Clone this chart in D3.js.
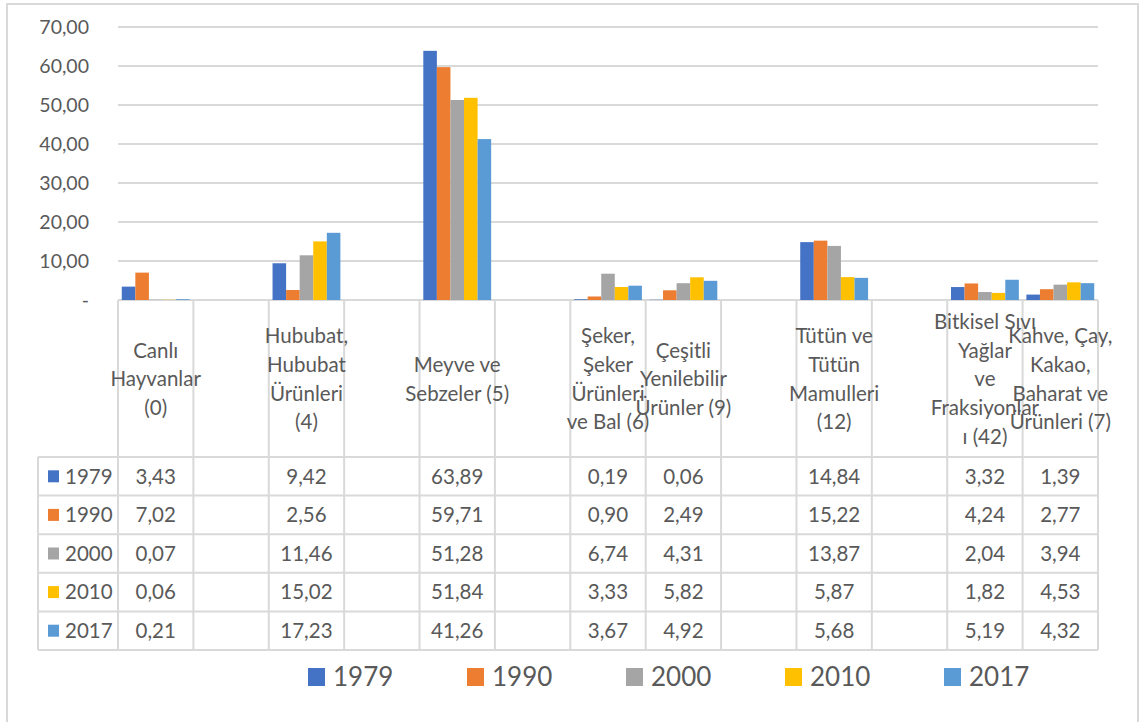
<!DOCTYPE html>
<html>
<head>
<meta charset="utf-8">
<script src="https://cdn.jsdelivr.net/npm/d3@7"></script>
<style>
  html, body { margin: 0; padding: 0; background: #fff; }
  svg { display: block; }
  text { font-family: Lato, "Open Sans", sans-serif; fill: #595959; }
</style>
</head>
<body>
<svg id="chart" width="1140" height="722"></svg>
<script>
// ---- Data ----
const categories = [
  "Canlı\nHayvanlar\n(0)",
  "",
  "Hububat,\nHububat\nÜrünleri\n(4)",
  "",
  "Meyve ve\nSebzeler (5)",
  "",
  "Şeker,\nŞeker\nÜrünleri\nve Bal (6)",
  "Çeşitli\nYenilebilir\nÜrünler (9)",
  "",
  "Tütün ve\nTütün\nMamulleri\n(12)",
  "",
  "Bitkisel Sıvı\nYağlar\nve\nFraksiyonlar\nı (42)",
  "Kahve, Çay,\nKakao,\nBaharat ve\nÜrünleri (7)"
];
const years = ["1979", "1990", "2000", "2010", "2017"];
const values1979 = [3.43, null, 9.42, null, 63.89, null, 0.19, 0.06, null, 14.84, null, 3.32, 1.39];
const values1990 = [7.02, null, 2.56, null, 59.71, null, 0.90, 2.49, null, 15.22, null, 4.24, 2.77];
const values2000 = [0.07, null, 11.46, null, 51.28, null, 6.74, 4.31, null, 13.87, null, 2.04, 3.94];
const values2010 = [0.06, null, 15.02, null, 51.84, null, 3.33, 5.82, null, 5.87, null, 1.82, 4.53];
const values2017 = [0.21, null, 17.23, null, 41.26, null, 3.67, 4.92, null, 5.68, null, 5.19, 4.32];
const yTicks = [0, 10, 20, 30, 40, 50, 60, 70];
const colors = ["#4472C4", "#ED7D31", "#A5A5A5", "#FFC000", "#5B9BD5"];

const series = [values1979, values1990, values2000, values2010, values2017];

// ---- Layout ----
const svg = d3.select("#chart");
const gridCol = "#d9d9d9";
const plotLeft = 118, plotRight = 1098, plotTop = 27, plotBottom = 300;
const headerBottom = 457, rowH = 38.6, tableLeft = 38;
const tableBottom = headerBottom + rowH * years.length;

// outer border
svg.append("rect").attr("x", 7).attr("y", 4).attr("width", 1131).attr("height", 740)
  .attr("fill", "none").attr("stroke", gridCol).attr("stroke-width", 2);

const idx = categories.map((d, i) => i);
const x0 = d3.scaleBand().domain(idx).range([plotLeft, plotRight]).padding(0);
const step = x0.bandwidth();
const x1 = d3.scaleBand().domain(years).range([step * 0.05, step * 0.95]).padding(0);
const y = d3.scaleLinear().domain([0, 70]).range([plotBottom, plotTop]);

// gridlines
svg.append("g").selectAll("line").data(yTicks).join("line")
  .attr("x1", plotLeft).attr("x2", plotRight)
  .attr("y1", d => y(d)).attr("y2", d => y(d))
  .attr("stroke", gridCol).attr("stroke-width", 2);

// y axis labels
const fmt = v => v === 0 ? "-" : v.toFixed(2).replace(".", ",");
svg.append("g").selectAll("text").data(yTicks).join("text")
  .attr("x", 89).attr("y", d => y(d)).attr("dy", "0.36em")
  .attr("text-anchor", "end").style("font-size", "19.5px")
  .text(fmt);

// bars
const barG = svg.append("g");
series.forEach((vals, si) => {
  barG.append("g").selectAll("rect")
    .data(vals.map((v, i) => ({ i, v })).filter(d => d.v !== null))
    .join("rect")
    .attr("x", d => x0(d.i) + x1(years[si]))
    .attr("width", x1.bandwidth())
    .attr("y", d => y(d.v))
    .attr("height", d => y(0) - y(d.v))
    .attr("fill", colors[si]);
});

// table lines
const tl = svg.append("g").attr("stroke", gridCol).attr("stroke-width", 2);
// vertical lines at column boundaries
const colEdges = idx.map(i => x0(i)).concat([plotRight]);
colEdges.forEach(xe => {
  tl.append("line").attr("x1", xe).attr("x2", xe).attr("y1", plotBottom).attr("y2", tableBottom);
});
tl.append("line").attr("x1", tableLeft).attr("x2", tableLeft).attr("y1", headerBottom).attr("y2", tableBottom);
for (let r = 0; r <= years.length; r++) {
  const yy = headerBottom + r * rowH;
  tl.append("line").attr("x1", tableLeft).attr("x2", plotRight).attr("y1", yy).attr("y2", yy);
}

// header category labels
const lh = 28.6, headCenter = 379;
const hg = svg.append("g");
categories.forEach((c, i) => {
  if (!c) return;
  const lines = c.split("\n");
  const t = hg.append("text")
    .attr("x", x0(i) + step / 2)
    .attr("text-anchor", "middle")
    .style("font-size", "20.5px");
  lines.forEach((ln, k) => {
    t.append("tspan").attr("x", x0(i) + step / 2)
      .attr("y", headCenter + (k - (lines.length - 1) / 2) * lh)
      .attr("dy", "0.36em").text(ln);
  });
});

// table rows
const vfmt = v => v.toFixed(2).replace(".", ",");
series.forEach((vals, si) => {
  const cy = headerBottom + si * rowH + rowH / 2;
  const rg = svg.append("g");
  rg.append("rect").attr("x", 48).attr("y", cy - 6).attr("width", 11).attr("height", 12).attr("fill", colors[si]);
  rg.append("text").attr("x", 65).attr("y", cy).attr("dy", "0.36em")
    .style("font-size", "20.5px").text(years[si]);
  rg.selectAll("text.v").data(vals.map((v, i) => ({ i, v })).filter(d => d.v !== null))
    .join("text").attr("class", "v")
    .attr("x", d => x0(d.i) + step / 2).attr("y", cy).attr("dy", "0.36em")
    .attr("text-anchor", "middle").style("font-size", "20.5px")
    .text(d => vfmt(d.v));
});

// bottom legend
const lg = svg.append("g");
years.forEach((yr, i) => {
  const lx = 308 + i * 159;
  lg.append("rect").attr("x", lx).attr("y", 668).attr("width", 17).attr("height", 18).attr("fill", colors[i]);
  lg.append("text").attr("x", lx + 25).attr("y", 686).style("font-size", "26px").text(yr);
});
</script>
</body>
</html>
